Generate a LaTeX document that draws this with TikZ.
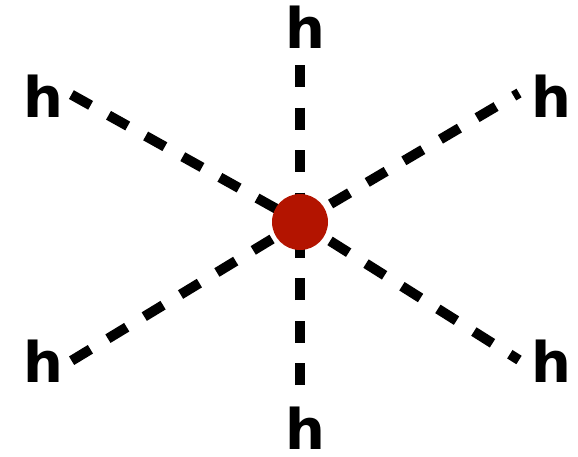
\documentclass[tikz,border=0pt]{standalone}
\usepackage{fontspec}
\setmainfont{DejaVu Sans}
\definecolor{atomred}{RGB}{179,20,0}
\begin{document}
\begin{tikzpicture}[x=1pt,y=-1pt,
  bond/.style={line width=10pt,dash pattern=on 22pt off 20.5pt},
  bondout/.style={bond,dash phase=7pt},
  lab/.style={inner sep=0pt,font=\fontsize{56}{56}\selectfont\bfseries},
  atom/.style={circle,fill=atomred,minimum size=56pt,inner sep=0pt}]
\useasboundingbox (0,0) rectangle (578,456);
\coordinate (c) at (300,222);
\coordinate (eT) at (300,65);
\coordinate (eB) at (300,385);
\coordinate (eUL) at (71.4,94.6);
\coordinate (eLL) at (71.6,360.7);
\coordinate (eUR) at (519,93);
\coordinate (eLR) at (519,360);
\draw[bond] (eT) -- (c);
\draw[bond] (eB) -- (c);
\draw[bond] (eUL) -- (c);
\draw[bond] (eLL) -- (c);
\draw[bondout] (c) -- (eUR);
\draw[bondout] (c) -- (eLR);
\node[atom] (ctr) at (c) {};
\node[lab] (hT) at (305,27) {h};
\node[lab] (hB) at (305,428) {h};
\node[lab] (hUL) at (43.5,96) {h};
\node[lab] (hLL) at (43.5,361.5) {h};
\node[lab] (hUR) at (551,96) {h};
\node[lab] (hLR) at (551,361) {h};
\end{tikzpicture}
\end{document}
